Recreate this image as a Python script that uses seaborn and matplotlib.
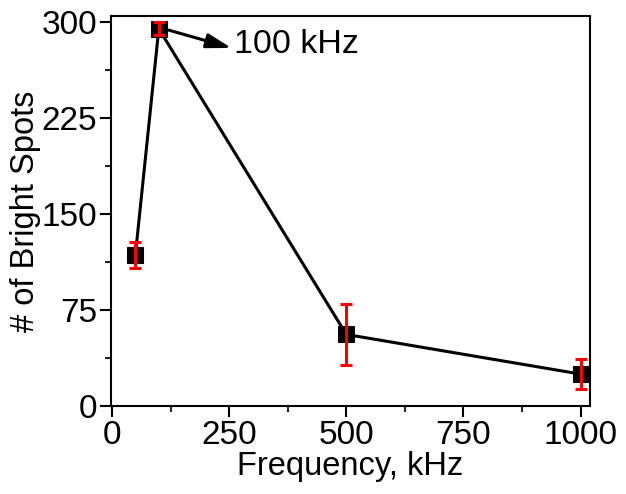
import matplotlib
matplotlib.use("Agg")
import matplotlib.pyplot as plt
import seaborn as sns
import pandas as pd
from matplotlib.ticker import MultipleLocator

freq = [50, 100, 500, 1000]
spots = [118, 295, 56, 25]
err = [10, 5, 24, 12]

sns.set_theme(style="white")
plt.rcParams['font.family'] = ['Liberation Sans', 'DejaVu Sans']

fig = plt.figure(figsize=(6.26, 4.94), dpi=100)
ax = fig.add_axes([0.1773, 0.178, 0.7652, 0.7896])

df = pd.DataFrame({"freq": freq, "spots": spots})
sns.lineplot(data=df, x="freq", y="spots", ax=ax, color="black", lw=2.2,
             marker="s", markersize=11.5, markeredgecolor="black", zorder=2)
ax.errorbar(freq, spots, yerr=err, fmt="none", ecolor="red", elinewidth=2.2,
            capsize=4.5, capthick=2.2, zorder=3)

ax.set_xlim(-2, 1020)
ax.set_ylim(0, 305)
ax.xaxis.set_major_locator(MultipleLocator(250))
ax.xaxis.set_minor_locator(MultipleLocator(125))
ax.yaxis.set_major_locator(MultipleLocator(75))
ax.yaxis.set_minor_locator(MultipleLocator(37.5))
ax.tick_params(which="major", direction="out", length=8, width=1.5, labelsize=24,
               bottom=True, left=True, colors="black", pad=2)
ax.tick_params(which="minor", direction="out", length=4, width=1.5,
               bottom=True, left=True)
for s in ax.spines.values():
    s.set_color("black")
    s.set_linewidth(1.5)

ax.set_xlabel("Frequency, kHz", fontsize=23.5, labelpad=0, color="black")
ax.set_ylabel("# of Bright Spots", fontsize=23.5, labelpad=0, color="black")

ax.text(260, 282.5, "100 kHz", fontsize=24.5, va="center", ha="left", color="black")
ax.annotate("", xy=(255, 280), xytext=(121, 294),
            arrowprops=dict(arrowstyle="-|>,head_length=0.75,head_width=0.22",
                            color="black", lw=2.2,
                            mutation_scale=20, shrinkA=0, shrinkB=0))

fig.savefig("out.png", dpi=100)
